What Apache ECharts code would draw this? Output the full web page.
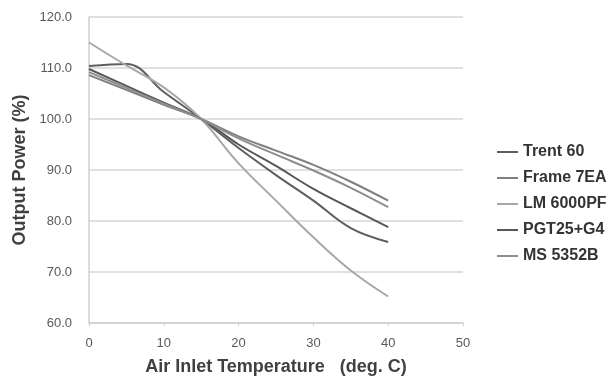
<!DOCTYPE html>
<html>
<head>
<meta charset="utf-8">
<script src="https://cdn.jsdelivr.net/npm/echarts@6/dist/echarts.min.js"></script>
<style>
  html, body { margin: 0; padding: 0; background: #fff; }
  #chart { width: 616px; height: 381px; }
</style>
</head>
<body>
<div id="chart"></div>
<script>
// Air inlet temperature (deg. C)
const temperatures = [0, 5, 10, 15, 20, 25, 30, 35, 40];

// Output power (% of ISO rating) per turbine model
const trent60   = [110.4, 110.8, 105.3, 100, 94.3, 89.0, 84.0, 78.6, 75.9];
const frame7EA  = [108.6, 105.7, 102.8, 100, 96.6, 93.8, 91.0, 87.7, 84.0];
const lm6000PF  = [115.0, 110.5, 106.2, 100, 91.3, 84.0, 76.8, 70.3, 65.2];
const pgt25G4   = [109.8, 106.5, 103.2, 100, 95.0, 90.8, 86.3, 82.5, 78.8];
const ms5352B   = [109.2, 106.1, 103.0, 100, 96.2, 93.0, 89.9, 86.5, 82.7];

const seriesNames = ['Trent 60', 'Frame 7EA', 'LM 6000PF', 'PGT25+G4', 'MS 5352B'];
const seriesValues = [trent60, frame7EA, lm6000PF, pgt25G4, ms5352B];
const seriesColors = ['#5e5e5e', '#808080', '#a8a8a8', '#575757', '#8e8e8e'];

const xTicks = { min: 0, max: 50, interval: 10 };
const yTicks = { min: 60, max: 120, interval: 10 };

const font = '"Liberation Sans", Arial, sans-serif';

const chart = echarts.init(document.getElementById('chart'), null, { renderer: 'canvas' });

chart.setOption({
  animation: false,
  backgroundColor: '#ffffff',
  grid: { left: 89, right: 153, top: 17, bottom: 54 },
  legend: {
    orient: 'vertical',
    left: 492,
    top: 139,
    icon: 'rect',
    itemWidth: 21,
    itemHeight: 2,
    itemGap: 10,
    textStyle: { fontFamily: font, fontSize: 16, fontWeight: 'bold', color: '#333333', lineHeight: 16 },
    data: seriesNames
  },
  xAxis: {
    type: 'value',
    min: xTicks.min, max: xTicks.max, interval: xTicks.interval,
    name: 'Air Inlet Temperature   (deg. C)',
    nameLocation: 'middle',
    nameGap: 35,
    nameTextStyle: { fontFamily: font, fontSize: 18, fontWeight: 'bold', color: '#404040' },
    axisLine: { show: true, lineStyle: { color: '#cfcfcf', width: 1.5 } },
    axisTick: { show: true, length: 3, inside: false, lineStyle: { color: '#cfcfcf' } },
    axisLabel: { fontFamily: font, fontSize: 13, color: '#595959', margin: 14 },
    splitLine: { show: false }
  },
  yAxis: {
    type: 'value',
    min: yTicks.min, max: yTicks.max, interval: yTicks.interval,
    name: 'Output Power (%)',
    nameLocation: 'middle',
    nameGap: 57,
    nameTextStyle: { fontFamily: font, fontSize: 18, fontWeight: 'bold', color: '#404040' },
    axisLine: { show: true, lineStyle: { color: '#cfcfcf', width: 1.5 } },
    axisTick: { show: false },
    axisLabel: {
      fontFamily: font, fontSize: 13, color: '#595959', margin: 17,
      formatter: v => v.toFixed(1)
    },
    splitLine: { show: true, lineStyle: { color: '#d6d6d6', width: 1.5 } }
  },
  series: seriesNames.map((name, i) => ({
    name: name,
    type: 'line',
    smooth: 0.4,
    showSymbol: false,
    symbol: 'none',
    color: seriesColors[i],
    lineStyle: { width: 2, color: seriesColors[i] },
    data: temperatures.map((t, j) => [t, seriesValues[i][j]])
  }))
});
</script>
</body>
</html>
